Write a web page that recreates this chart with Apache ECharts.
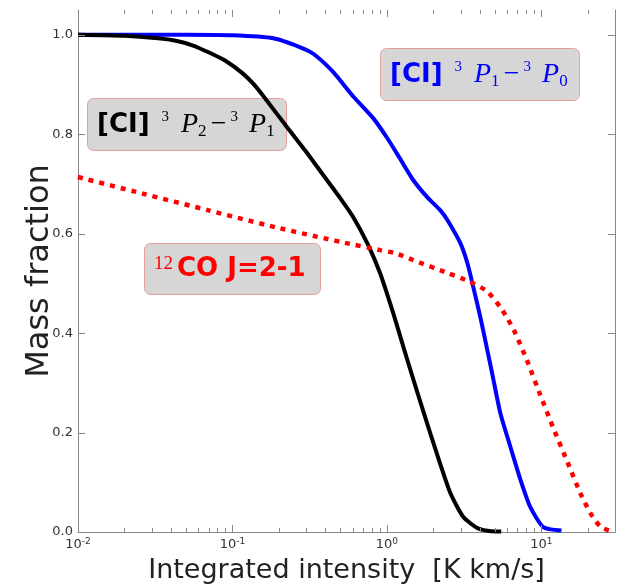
<!DOCTYPE html>
<html lang="en">
<head>
    <meta charset="UTF-8">
    <title>Mass fraction</title>
    <script src="https://cdn.jsdelivr.net/npm/echarts@6/dist/echarts.min.js"></script>
    <style>
        html, body { margin: 0; padding: 0; background: #fff; }
    </style>
</head>
<body>
    <div id="chart" style="width:619px;height:586px;"></div>
<script>
    // [CI] 3P2-3P1 (black)
    var ci21 = [
        [0.01, 1.000], [0.02, 0.998], [0.033, 0.993], [0.043, 0.988], [0.055, 0.979],
        [0.070, 0.965], [0.090, 0.948], [0.116, 0.923], [0.140, 0.898], [0.163, 0.872],
        [0.226, 0.814], [0.305, 0.762], [0.387, 0.718], [0.50, 0.671], [0.606, 0.633],
        [0.746, 0.581], [0.903, 0.521], [1.10, 0.440], [1.28, 0.372], [1.42, 0.326],
        [1.72, 0.243], [2.12, 0.155], [2.58, 0.078], [3.13, 0.030], [3.85, 0.008],
        [4.6, 0.002], [5.5, 0.001]
    ];
    // [CI] 3P1-3P0 (blue)
    var ci10 = [
        [0.01, 1.000], [0.05, 1.000], [0.10, 0.999], [0.184, 0.993], [0.275, 0.975],
        [0.334, 0.962], [0.45, 0.925], [0.606, 0.876], [0.818, 0.832], [1.007, 0.792],
        [1.222, 0.750], [1.48, 0.708], [1.83, 0.673], [2.22, 0.647], [2.47, 0.627],
        [2.99, 0.581], [3.32, 0.541], [3.63, 0.492], [4.03, 0.432], [4.47, 0.366],
        [4.90, 0.306], [5.43, 0.239], [6.31, 0.171], [7.33, 0.105], [8.49, 0.050],
        [10.3, 0.010], [13.5, 0.003]
    ];
    // 12CO J=2-1 (red, dotted)
    var co21 = [
        [0.01, 0.714], [0.026, 0.681], [0.07, 0.647], [0.19, 0.613], [0.51, 0.583],
        [0.906, 0.567], [1.13, 0.561], [1.48, 0.547], [2.47, 0.521], [3.47, 0.503],
        [4.47, 0.484], [5.43, 0.452], [6.03, 0.430], [6.79, 0.400], [8.2, 0.340],
        [9.86, 0.275], [12.0, 0.208], [14.8, 0.140], [17.9, 0.078], [20.8, 0.038],
        [24.2, 0.010], [28.0, 0.002]
    ];
    var xTickValues = [0.01, 0.02, 0.03, 0.04, 0.05, 0.06, 0.07, 0.08, 0.09,
                       0.1, 0.2, 0.3, 0.4, 0.5, 0.6, 0.7, 0.8, 0.9,
                       1, 2, 3, 4, 5, 6, 7, 8, 9, 10, 20];
    var yTickValues = [0, 0.2, 0.4, 0.6, 0.8, 1.0];
    var xMin = 0.01, xMax = 30;
    var yMin = 0, yMax = 1.05;

    var frame = '#888';
    var font = 'DejaVu Sans';

    var chart = echarts.init(document.getElementById('chart'));

    function isPow10(v) {
        var e = Math.round(Math.log(v) / Math.LN10);
        return Math.abs(v - Math.pow(10, e)) / v < 1e-6;
    }

    function powLabel(v) {
        if (!isPow10(v)) return '';
        var e = Math.round(Math.log(v) / Math.LN10);
        return '{b|10}{s|' + e + '}';
    }

    // matplotlib-style inward ticks on bottom and top
    function renderXTicks(params, api) {
        var v = api.value(0);
        var len = isPow10(v) ? 7 : 4;
        var b = api.coord([v, yMin]);
        var t = api.coord([v, yMax]);
        var x = Math.round(b[0]) + 0.5;
        var st = { stroke: frame, lineWidth: 1 };
        return {
            type: 'group',
            children: [
                { type: 'line', shape: { x1: x, y1: b[1], x2: x, y2: b[1] - len }, style: st },
                { type: 'line', shape: { x1: x, y1: t[1], x2: x, y2: t[1] + len }, style: st }
            ]
        };
    }

    // inward ticks on left and right
    function renderYTicks(params, api) {
        var v = api.value(1);
        var l = api.coord([xMin, v]);
        var r = api.coord([xMax, v]);
        var y = Math.round(l[1]) + 0.5;
        var st = { stroke: frame, lineWidth: 1 };
        return {
            type: 'group',
            children: [
                { type: 'line', shape: { x1: l[0], y1: y, x2: l[0] + 7, y2: y }, style: st },
                { type: 'line', shape: { x1: r[0], y1: y, x2: r[0] - 7, y2: y }, style: st }
            ]
        };
    }

    // label rich styles
    function mathRich(color) {
        return {
            b: { fontFamily: font, fontWeight: 'bold', fontSize: 26, lineHeight: 30, fill: color },
            g: { fontSize: 10, width: 12, lineHeight: 30 },
            g2: { fontSize: 10, width: 11, lineHeight: 30 },
            sup: { fontFamily: 'Liberation Serif', fontSize: 15, lineHeight: 14, verticalAlign: 'top', fill: color },
            sub: { fontFamily: 'Liberation Serif', fontSize: 17, lineHeight: 7, verticalAlign: 'bottom', fill: color },
            i: { fontFamily: 'Liberation Serif', fontStyle: 'italic', fontSize: 28, lineHeight: 30, fill: color },
            m: { fontFamily: 'Liberation Serif', fontSize: 28, lineHeight: 30, width: 24, align: 'center', fill: color }
        };
    }

    function labelBox(x, y, w, h, text, rich) {
        return {
            type: 'group',
            x: x, y: y,
            z: 100,
            children: [
                { type: 'rect', shape: { x: 0.5, y: 0.5, width: w, height: h, r: 6 },
                  style: { fill: '#d6d6d6', stroke: '#e4a0a0', lineWidth: 1 } },
                { type: 'text', x: 10, y: h / 2 + 1,
                  style: { text: text, rich: rich, verticalAlign: 'middle', align: 'left' } }
            ]
        };
    }

    var ciText21 = '{b|[CI]}{g| }{sup|3}{g| }{i|P}{sub|2}{m|−}{sup|3}{g2| }{i|P}{sub|1}';
    var ciText10 = '{b|[CI]}{g| }{sup|3}{g| }{i|P}{sub|1}{m|−}{sup|3}{g2| }{i|P}{sub|0}';
    var coText = '{sup|12}{g3| }{b|CO J=2-1}';
    var coRich = mathRich('#f00');
    coRich.sup = { fontFamily: 'Liberation Serif', fontSize: 19, lineHeight: 18, verticalAlign: 'top', fill: '#f00' };
    coRich.g3 = { fontSize: 10, width: 4, lineHeight: 30 };

    var options = {
        animation: false,
        backgroundColor: '#fff',
        grid: { left: 78, right: 4, top: 10, bottom: 54, outerBoundsMode: 'none' },
        xAxis: [
            {
                type: 'log', logBase: 10, min: xMin, max: xMax,
                name: 'Integrated intensity  [K km/s]',
                nameLocation: 'middle', nameGap: 25,
                nameTextStyle: { fontFamily: font, fontSize: 27, color: '#222' },
                axisLine: { lineStyle: { color: frame, width: 1 } },
                axisTick: { show: false },
                splitLine: { show: false },
                minorTick: { show: false },
                axisLabel: {
                    margin: 5,
                    formatter: powLabel,
                    rich: {
                        b: { fontFamily: font, fontSize: 13, color: '#333', lineHeight: 15 },
                        s: { fontFamily: font, fontSize: 9, color: '#333', lineHeight: 9, verticalAlign: 'top' }
                    }
                }
            },
            {
                type: 'log', logBase: 10, min: xMin, max: xMax, position: 'top',
                axisLine: { lineStyle: { color: frame, width: 1 } },
                axisTick: { show: false },
                axisLabel: { show: false },
                splitLine: { show: false }
            }
        ],
        yAxis: [
            {
                type: 'value', min: yMin, max: yMax, interval: 0.2,
                name: 'Mass fraction',
                nameLocation: 'middle', nameGap: 22, nameMoveOverlap: false,
                nameTextStyle: { fontFamily: font, fontSize: 32, color: '#222' },
                axisLine: { show: true, lineStyle: { color: frame, width: 1 } },
                axisTick: { show: false },
                splitLine: { show: false },
                axisLabel: {
                    margin: 5, showMaxLabel: false,
                    fontFamily: font, fontSize: 13, color: '#333',
                    formatter: function (v) { return v.toFixed(1); }
                }
            },
            {
                type: 'value', min: yMin, max: yMax, interval: 0.2, position: 'right',
                axisLine: { show: true, lineStyle: { color: frame, width: 1 } },
                axisTick: { show: false },
                axisLabel: { show: false },
                splitLine: { show: false }
            }
        ],
        series: [
            {
                name: '[CI] 3P1-3P0', type: 'line', data: ci10,
                showSymbol: false, smooth: 0.2,
                lineStyle: { color: '#0000ff', width: 4 }
            },
            {
                name: '[CI] 3P2-3P1', type: 'line', data: ci21,
                showSymbol: false, smooth: 0.2,
                lineStyle: { color: '#000', width: 4 }
            },
            {
                name: '12CO J=2-1', type: 'line', data: co21,
                showSymbol: false, smooth: 0.2,
                lineStyle: { color: '#f00', width: 4.5, type: [5, 6], cap: 'butt' }
            },
            {
                type: 'custom', silent: true, clip: false,
                data: xTickValues.map(function (v) { return [v, yMin]; }),
                renderItem: renderXTicks,
                z: 5
            },
            {
                type: 'custom', silent: true, clip: false,
                data: yTickValues.map(function (v) { return [xMin, v]; }),
                renderItem: renderYTicks,
                z: 5
            }
        ],
        graphic: [
            labelBox(380, 48, 199, 52, ciText10, mathRich('#0000ff')),
            labelBox(87, 98, 199, 52, ciText21, mathRich('#000')),
            labelBox(144, 243, 176, 51, coText, coRich)
        ]
    };
    chart.setOption(options);
</script>
</body>
</html>
